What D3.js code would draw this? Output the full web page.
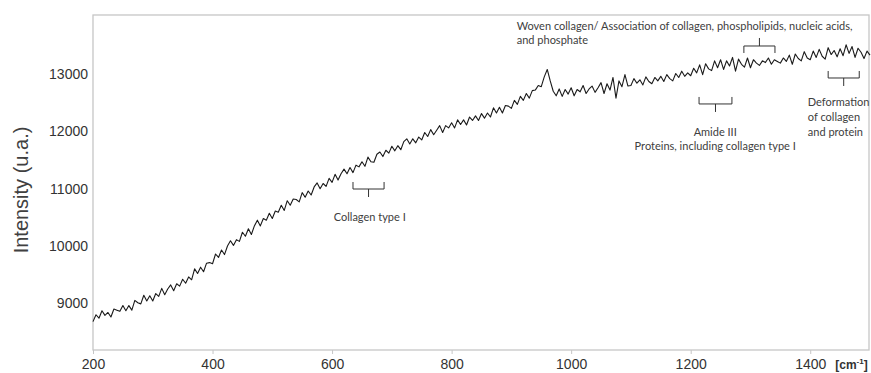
<!DOCTYPE html>
<html>
<head>
<meta charset="utf-8">
<script src="https://cdn.jsdelivr.net/npm/d3@7"></script>
<style>
  body { margin: 0; background: #fff; }
  svg { display: block; }
</style>
</head>
<body>
<div id="container"></div>
<script>
// wavenumber grid, one value every 5 cm-1
const wavenumbers = d3.range(200, 1501, 5);

// intensity (u.a.)
const intensity = [
  8680, 8800, 8740, 8870, 8790, 8840, 8760, 8900, 8880, 8860,
  8960, 8870, 8960, 8880, 9050, 9010, 8990, 9140, 9040, 9130,
  9040, 9170, 9120, 9260, 9150, 9250, 9320, 9220, 9340, 9300,
  9420, 9350, 9460, 9410, 9600, 9520, 9630, 9550, 9700, 9710,
  9690, 9860, 9800, 9930, 9850, 10000, 10090, 10010, 10110, 10080,
  10240, 10170, 10300, 10200, 10350, 10450, 10350, 10480, 10450, 10570,
  10480, 10610, 10590, 10710, 10620, 10790, 10710, 10820, 10810, 10770,
  10930, 10850, 10960, 10890, 11030, 11100, 11000, 11090, 11040, 11180,
  11110, 11250, 11150, 11260, 11340, 11260, 11370, 11280, 11410, 11380,
  11470, 11390, 11550, 11470, 11460, 11600, 11640, 11560, 11670, 11620,
  11740, 11660, 11750, 11680, 11820, 11870, 11780, 11870, 11800, 11900,
  11850, 11980, 11910, 12030, 11940, 12020, 12100, 11980, 12100, 12060,
  12150, 12060, 12200, 12120, 12200, 12110, 12250, 12190, 12270, 12190,
  12310, 12230, 12320, 12250, 12410, 12320, 12420, 12320, 12450, 12440,
  12400, 12540, 12470, 12610, 12540, 12660, 12580, 12710, 12720, 12800,
  12780, 12950, 13080, 12880, 12700, 12620, 12740, 12610, 12730, 12650,
  12760, 12620, 12730, 12690, 12800, 12660, 12740, 12790, 12680, 12760,
  12850, 12660, 12830, 12720, 12940, 12580, 12880, 12780, 12990, 12790,
  12800, 12920, 12840, 12900, 12810, 12950, 12870, 12830, 12940, 12880,
  12960, 12870, 12990, 12920, 12880, 13010, 12940, 13050, 12960, 13020,
  12970, 13100, 13020, 13160, 12990, 13180, 13090, 13060, 13230, 13110,
  13250, 13080, 13230, 13140, 13290, 13050, 13260, 13170, 13120, 13280,
  13110, 13250, 13190, 13150, 13230, 13200, 13280, 13170, 13250, 13220,
  13190, 13280, 13220, 13330, 13170, 13350, 13270, 13230, 13390, 13280,
  13250, 13400, 13290, 13430, 13310, 13260, 13460, 13340, 13410, 13300,
  13440, 13320, 13510, 13360, 13480, 13290, 13450, 13380, 13270, 13400,
  13330
];

const xTicks = [200, 400, 600, 800, 1000, 1200, 1400];
const yTicks = [9000, 10000, 11000, 12000, 13000];

// brace annotations: [from, to] in cm-1, anchor intensity, direction
const braceFrom = [635, 1214, 1289, 1430];
const braceTo = [687, 1269, 1341, 1482];
const braceLevel = [11116, 12600, 13367, 13053];
const braceDir = [1, 1, -1, 1];

// text annotations
const noteLines = [
  "Woven collagen/ Association of collagen, phospholipids, nucleic acids,",
  "and phosphate",
  "Collagen type I",
  "Amide III",
  "Proteins, including collagen type I",
  "Deformation",
  "of collagen",
  "and protein"
];
const noteX = [909, 909, 663, 1241, 1241, 1396, 1396, 1396];
const noteY = [13760, 13516, 10436, 11919, 11675, 12443, 12181, 11920];
const noteAnchor = ["start", "start", "middle", "middle", "middle", "start", "start", "start"];

const config = {
  width: 871,
  height: 373,
  left: 93,
  right: 869,
  top: 15,
  bottom: 350
};

const svg = d3.select('#container')
  .append('svg')
  .attr('width', config.width)
  .attr('height', config.height);

const xScale = d3.scaleLinear()
  .domain([200, 1500])
  .range([config.left, 870]);

const yScale = d3.scaleLinear()
  .domain([8185, 14030])
  .range([config.bottom, config.top]);

// frame
svg.append('rect')
  .attr('x', config.left)
  .attr('y', config.top)
  .attr('width', config.right - config.left)
  .attr('height', config.bottom - config.top)
  .attr('fill', 'none')
  .attr('stroke', '#c6c6c6')
  .attr('stroke-width', 1.3);

// x axis
const xAxis = svg.append('g')
  .attr('transform', `translate(0,${config.bottom})`)
  .call(d3.axisBottom(xScale).tickValues(xTicks).tickSize(4).tickPadding(5).tickFormat(d3.format('d')));
xAxis.select('.domain').remove();
xAxis.selectAll('.tick line').attr('stroke', '#c6c6c6');
xAxis.selectAll('.tick text')
  .style('font-family', '"Liberation Sans", Arial, sans-serif')
  .style('font-size', '14px')
  .attr('fill', '#333');

const unit = svg.append('text')
  .attr('x', xScale(1400) + 25)
  .attr('y', 369)
  .style('font-family', '"Liberation Sans", Arial, sans-serif')
  .style('font-size', '12px')
  .style('font-weight', 'bold')
  .attr('fill', '#333');
unit.append('tspan').text('[cm');
unit.append('tspan').attr('dy', -5).style('font-size', '8px').text('-1');
unit.append('tspan').attr('dy', 5).text(']');

// y axis
const yAxis = svg.append('g')
  .attr('transform', `translate(${config.left},0)`)
  .call(d3.axisLeft(yScale).tickValues(yTicks).tickSize(0).tickPadding(5).tickFormat(d3.format('d')));
yAxis.select('.domain').remove();
yAxis.selectAll('.tick text')
  .style('font-family', '"Liberation Sans", Arial, sans-serif')
  .style('font-size', '14px')
  .attr('fill', '#333');

svg.append('text')
  .attr('transform', 'translate(28,190) rotate(-90)')
  .attr('text-anchor', 'middle')
  .text('Intensity (u.a.)')
  .style('font-family', '"Liberation Sans", Arial, sans-serif')
  .style('font-size', '20px')
  .attr('fill', '#404040');

// spectrum
const line = d3.line()
  .x((d, i) => xScale(wavenumbers[i]))
  .y(d => yScale(d));

svg.append('path')
  .datum(intensity)
  .attr('d', line)
  .attr('fill', 'none')
  .attr('stroke', '#1a1a1a')
  .attr('stroke-width', 1.1)
  .attr('stroke-linejoin', 'round');

// braces
const braces = svg.append('g').attr('class', 'braces');
braceFrom.forEach((from, i) => {
  const x0 = xScale(from), x1 = xScale(braceTo[i]);
  const y0 = yScale(braceLevel[i]);
  const dir = braceDir[i];
  const y1 = y0 + dir * 7;
  const y2 = y1 + dir * 8;
  const xm = (x0 + x1) / 2;
  braces.append('path')
    .attr('d', `M${x0},${y0}V${y1}H${x1}V${y0}M${xm},${y1}V${y2}`)
    .attr('fill', 'none')
    .attr('stroke', '#333')
    .attr('stroke-width', 1);
});

// notes
svg.append('g')
  .selectAll('text')
  .data(noteLines)
  .join('text')
  .attr('x', (d, i) => xScale(noteX[i]))
  .attr('y', (d, i) => yScale(noteY[i]))
  .attr('text-anchor', (d, i) => noteAnchor[i])
  .text(d => d)
  .style('font-family', 'Lato, "Open Sans", sans-serif')
  .style('font-size', '11px')
  .attr('fill', '#404040');
</script>
</body>
</html>
